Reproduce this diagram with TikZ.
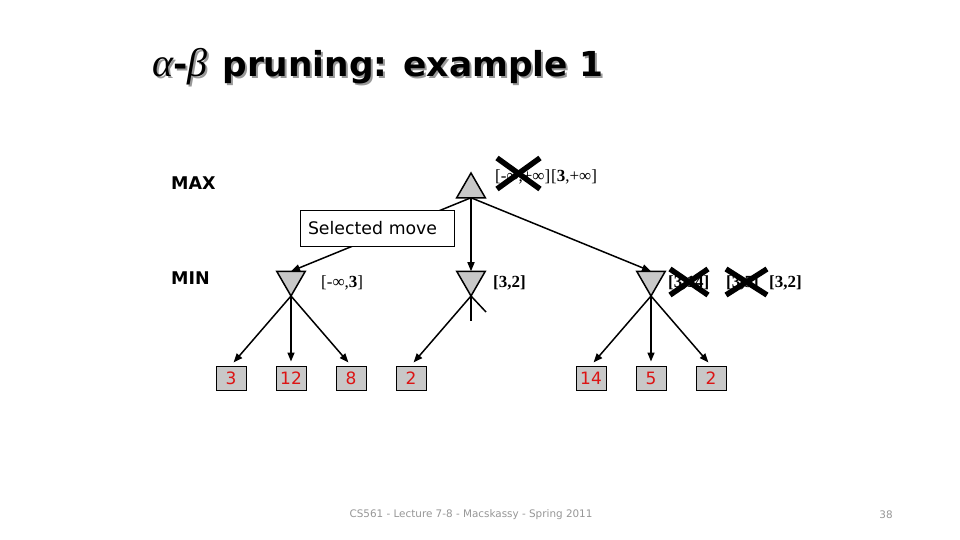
\documentclass[tikz,border=0pt]{standalone}
\usepackage{fontspec}
\setmainfont{Liberation Serif}
\setsansfont{DejaVu Sans}
\usepackage{xcolor}
\usepackage{tikz}
\usetikzlibrary{shapes.geometric,arrows.meta}
\definecolor{leafred}{RGB}{220,20,20}
\definecolor{nodegray}{RGB}{200,200,200}
\definecolor{footgray}{RGB}{150,150,150}
\tikzset{
	maxnode/.style={regular polygon, regular polygon sides=3, draw, line width=1.5pt, fill=nodegray, inner sep=0pt, outer sep=0pt, minimum size=33pt},
	minnode/.style={maxnode, shape border rotate=180},
	leaf/.style={draw, line width=1pt, fill=nodegray, minimum width=30pt, minimum height=24pt, inner sep=0pt, text=leafred, font=\sffamily\fontsize{17}{17}\selectfont},
	link/.style={line width=1.5pt, -{Triangle[length=9pt,width=7pt]}},
	bound/.style={anchor=west, inner sep=0pt, font=\fontsize{17}{17}\selectfont},
	xmark/.style={line width=5.5pt},
	titlefont/.style={anchor=base west, inner sep=0pt, font=\sffamily\bfseries\fontsize{34.4}{34.4}\selectfont},
}
\newcommand{\greekletter}[1]{{\rmfamily\mdseries\itshape\fontsize{40}{40}\selectfont #1}}
\begin{document}
\begin{tikzpicture}[x=1pt,y=-1pt]
			\useasboundingbox (0,0) rectangle (960,540);
			\node[titlefont, text=black!40] (titleshadow) at (154,79) {\greekletter{α}-\greekletter{β}\hspace{3pt} pruning: example 1};
			\node[titlefont] (title) at (152,77) {\greekletter{α}-\greekletter{β}\hspace{3pt} pruning: example 1};
			\node[anchor=west, inner sep=0pt, font=\sffamily\bfseries\fontsize{17.5}{17.5}\selectfont] (maxlab) at (171,183) {MAX};
			\node[anchor=west, inner sep=0pt, font=\sffamily\bfseries\fontsize{17.5}{17.5}\selectfont] (minlab) at (171,278) {MIN};
			\node[maxnode] (root) at (471,189.5) {};
			\node[minnode] (minL) at (291,279.5) {};
			\node[minnode] (minM) at (471,279.5) {};
			\node[minnode] (minR) at (651,279.5) {};
			\node[leaf] (l3) at (231,378) {3};
			\node[leaf] (l12) at (291,378) {12};
			\node[leaf] (l8) at (351,378) {8};
			\node[leaf] (l2) at (411,378) {2};
			\node[leaf] (l14) at (591,378) {14};
			\node[leaf] (l5) at (651,378) {5};
			\node[leaf] (l2b) at (711,378) {2};
			\coordinate (cutA) at (471,321);
			\coordinate (cutB) at (486,312);
			\draw[link] (root.south) -- (minL.north);
			\draw[link] (root.south) -- (minM.north);
			\draw[link] (root.south) -- (minR.north);
			\draw[link, shorten >=4pt] (minL.south) -- (l3.north);
			\draw[link, shorten >=4pt] (minL.south) -- (l12.north);
			\draw[link, shorten >=4pt] (minL.south) -- (l8.north);
			\draw[link, shorten >=4pt] (minM.south) -- (l2.north);
			\draw[line width=1.5pt] (minM.south) -- (cutA);
			\draw[line width=1.5pt] (minM.south) -- (cutB);
			\draw[link, shorten >=4pt] (minR.south) -- (l14.north);
			\draw[link, shorten >=4pt] (minR.south) -- (l5.north);
			\draw[link, shorten >=4pt] (minR.south) -- (l2b.north);
			\node[draw, line width=1pt, fill=white, minimum width=154pt, minimum height=36pt, text width=138pt, inner xsep=8pt, align=left, font=\sffamily\fontsize{17.3}{17.3}\selectfont] (selmove) at (377,228) {Selected move};
			\node[bound] (rootold) at (495,177) {[-∞,+∞]};
			\node[bound] (rootnew) at (551,177) {[\textbf{3},+∞]};
			\node[bound] (boundL) at (321,283) {[-∞,\textbf{3}]};
			\node[bound] (boundM) at (493,283) {\textbf{[3,2]}};
			\node[bound] (boundR1) at (668,283) {\textbf{[3,14]}};
			\node[bound] (boundR2) at (726,283) {\textbf{[3,5]}};
			\node[bound] (boundR3) at (769,283) {\textbf{[3,2]}};
			\draw[xmark] (497,158) -- (540,189);
			\draw[xmark] (497,189) -- (540,158);
			\draw[xmark] (670,269) -- (708,295);
			\draw[xmark] (670,295) -- (708,269);
			\draw[xmark] (726,269) -- (767,295);
			\draw[xmark] (726,295) -- (767,269);
			\node[font=\sffamily\fontsize{10.4}{10.4}\selectfont, text=footgray] (footer) at (471,515) {CS561 - Lecture 7-8 - Macskassy - Spring 2011};
			\node[font=\sffamily\fontsize{10.4}{10.4}\selectfont, text=footgray] (pagenum) at (886,515) {38};
		\end{tikzpicture}
\end{document}
